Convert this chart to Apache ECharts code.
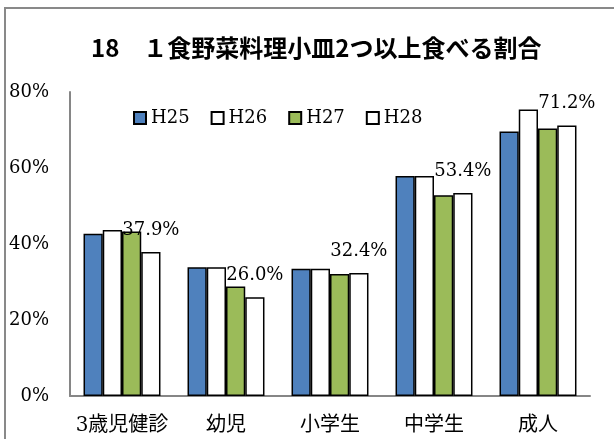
<!DOCTYPE html>
<html>
<head>
<meta charset="utf-8">
<script src="https://cdn.jsdelivr.net/npm/echarts@6/dist/echarts.min.js"></script>
<style>
  html, body { margin: 0; padding: 0; background: #fff; }
  #chart { width: 614px; height: 439px; }
</style>
</head>
<body>
<div id="chart"></div>
<script>
// 区分
const categories = ['3歳児健診', '幼児', '小学生', '中学生', '成人'];
const seriesNames = ['H25', 'H26', 'H27', 'H28'];
// 各年度の割合 (%)
const dataH25 = [42.7, 33.9, 33.5, 57.9, 69.6];
const dataH26 = [43.7, 33.9, 33.5, 57.9, 75.4];
const dataH27 = [43.3, 28.8, 32.1, 52.8, 70.4];
const dataH28 = [37.9, 26.0, 32.4, 53.4, 71.2];
const yTicks = [0, 20, 40, 60, 80];

const latin = "'DejaVu Serif', 'Noto Sans CJK JP'";
const fills = ['#4F81BD', '#FFFFFF', '#9BBB59', '#FFFFFF'];
const allData = [dataH25, dataH26, dataH27, dataH28];

let myChart = echarts.init(document.getElementById('chart'));

let series = seriesNames.map((name, i) => ({
    name: name,
    type: 'bar',
    data: allData[i],
    barGap: '0%',
    barCategoryGap: '26%',
    itemStyle: {
        color: fills[i],
        borderColor: '#000',
        borderWidth: 1.5
    },
    label: {
        show: i === 3,
        position: 'top',
        distance: 13,
        color: '#000',
        fontFamily: latin,
        fontSize: 18,
        formatter: p => p.value.toFixed(1) + '%'
    },
    emphasis: { disabled: true }
}));

let options = {
    animation: false,
    backgroundColor: '#fff',
    title: {
        text: '18　１食野菜料理小皿2つ以上食べる割合',
        left: 86,
        top: 31,
        textStyle: {
            fontFamily: "'Noto Sans CJK JP'",
            fontWeight: 'bold',
            fontSize: 24,
            color: '#000'
        }
    },
    legend: {
        data: seriesNames,
        left: 128,
        top: 104,
        itemWidth: 12,
        itemHeight: 12,
        itemGap: 21,
        icon: 'rect',
        textStyle: { fontFamily: latin, fontSize: 18, color: '#000' }
    },
    grid: { left: 70, right: 24, top: 92, bottom: 43, containLabel: false },
    xAxis: {
        type: 'category',
        data: categories,
        axisLine: { lineStyle: { color: '#868686', width: 2 } },
        axisTick: { show: false },
        axisLabel: {
            interval: 0,
            margin: 20,
            color: '#000',
            fontFamily: "'DejaVu Serif', 'Noto Sans CJK JP'",
            fontSize: 20
        }
    },
    yAxis: {
        type: 'value',
        min: yTicks[0],
        max: yTicks[yTicks.length - 1],
        interval: 20,
        axisLine: { show: true, lineStyle: { color: '#868686', width: 2 } },
        axisTick: { show: false },
        splitLine: { show: false },
        axisLabel: {
            margin: 21,
            color: '#000',
            fontFamily: latin,
            fontSize: 18,
            formatter: '{value}%'
        }
    },
    graphic: [{
        type: 'rect',
        shape: { x: 5, y: 8, width: 800, height: 600 },
        style: { fill: 'none', stroke: '#898989', lineWidth: 2 },
        silent: true
    }],
    series: series
};

options && myChart.setOption(options);
</script>
</body>
</html>
